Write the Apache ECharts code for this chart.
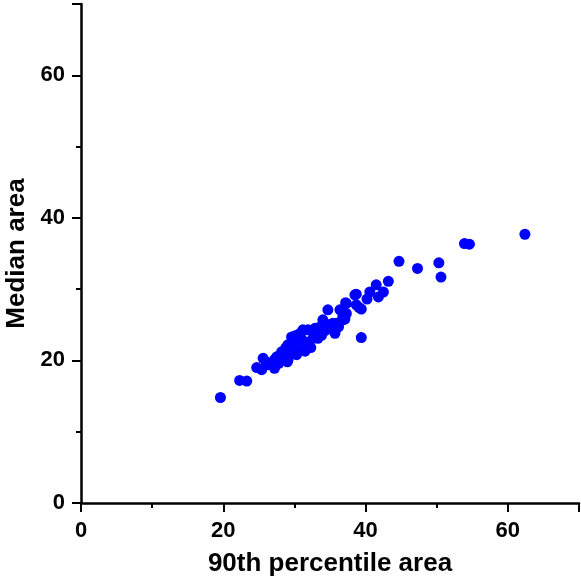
<!DOCTYPE html>
<html><head><meta charset="utf-8">
<script src="https://cdn.jsdelivr.net/npm/echarts@6/dist/echarts.min.js"></script>
<style>html,body{margin:0;padding:0;background:#fff}#c{width:581px;height:584px}</style>
</head><body><div id="c"></div>
<script>
const xTitle = '90th percentile area';
const yTitle = 'Median area';
const xValues = [19.6,22.3,23.3,24.7,25.4,25.6,26.3,27.2,27.2,28.2,29.1,29.1,29.6,30.8,30.8,31.2,31.9,32.6,33.3,32.9,33.6,34.0,34.7,35.7,35.9,36.8,37.3,38.5,37.3,38.7,39.4,35.4,36.4,36.8,37.1,37.2,38.7,39.1,39.4,40.2,40.6,41.5,41.8,42.5,43.2,44.7,47.3,50.3,50.6,53.9,54.6,62.4,26.0,27.8,28.5,29.5,30.0,30.3,31.5,31.0,32.0,32.3,33.8,34.3,34.8,30.5,28.8,27.5,29.8,33.0,31.5,35.2,36.2,29.0,30.2];
const yValues = [14.8,17.2,17.1,19.0,18.7,20.3,19.4,18.9,20.1,21.2,20.1,22.2,23.3,21.5,23.8,24.3,24.3,23.1,23.1,24.5,24.7,25.7,27.1,23.8,25.2,25.7,28.0,29.2,26.6,27.8,23.2,25.2,27.1,26.1,25.8,28.1,29.3,27.4,27.2,28.6,29.6,30.6,28.9,29.6,31.1,33.9,32.9,33.7,31.7,36.4,36.3,37.7,19.8,19.6,20.5,21.0,22.5,20.8,22.2,23.0,22.6,21.8,23.5,24.2,25.0,23.0,21.8,20.5,22.0,23.8,21.3,24.6,24.7,19.8,23.5];
const axisMin = 0, axisMax = 70, labelStep = 20;

const points = xValues.map((x, i) => [x, yValues[i]]);
const chart = echarts.init(document.getElementById('c'), null, {renderer: 'canvas'});
const labelFmt = v => (v % labelStep === 0 ? String(v) : '');
const font = 'Liberation Sans, Arial, sans-serif';
const axisCommon = {
  type: 'value', min: axisMin, max: axisMax, interval: labelStep,
  splitLine: {show: false},
  axisLine: {show: true, onZero: false, lineStyle: {color: '#000', width: 2.5}},
  axisTick: {show: true, length: 9, lineStyle: {color: '#000', width: 2}},
  minorTick: {show: true, splitNumber: 2, length: 5, lineStyle: {color: '#000', width: 2}},
  axisLabel: {formatter: labelFmt, color: '#000', fontFamily: font, fontWeight: 'bold', fontSize: 22},
  nameLocation: 'middle',
  nameTextStyle: {color: '#000', fontFamily: font, fontWeight: 'bold', fontSize: 26}
};
chart.setOption({
  animation: false,
  backgroundColor: '#fff',
  grid: {left: 81, right: 2, top: 4, bottom: 81, containLabel: false, outerBoundsMode: 'none'},
  xAxis: Object.assign({}, axisCommon, {name: xTitle, nameGap: 48,
    axisLabel: Object.assign({}, axisCommon.axisLabel, {margin: 17})}),
  yAxis: Object.assign({}, axisCommon, {name: yTitle, nameGap: 48,
    axisLabel: Object.assign({}, axisCommon.axisLabel, {margin: 16})}),
  series: [{
    type: 'scatter', data: points, symbol: 'circle', symbolSize: 11,
    itemStyle: {color: '#0000ff', opacity: 1}
  }]
});
</script></body></html>
